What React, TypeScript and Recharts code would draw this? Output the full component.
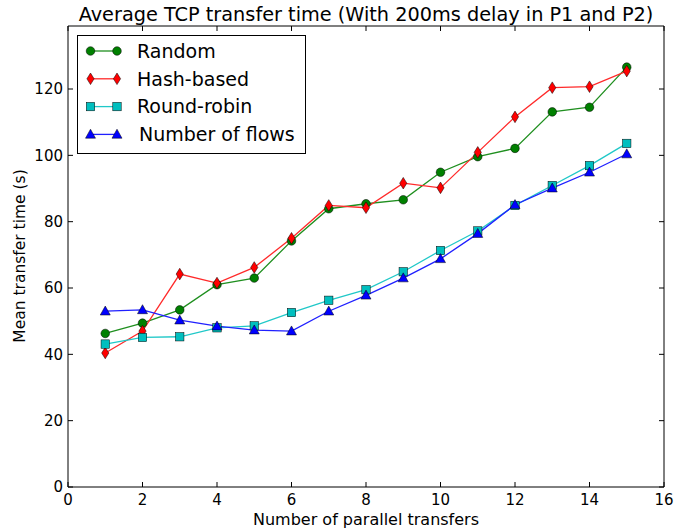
import { Legend, Line, LineChart, ReferenceArea, XAxis, YAxis } from "recharts";

const transfers = [1, 2, 3, 4, 5, 6, 7, 8, 9, 10, 11, 12, 13, 14, 15];
const random = [46.3, 49.4, 53.4, 61.0, 63.0, 74.2, 83.9, 85.4, 86.6, 94.9, 99.6, 102.1, 113.1, 114.5, 126.6];
const hashBased = [40.4, 47.0, 64.2, 61.5, 66.2, 75.0, 84.9, 84.2, 91.6, 90.2, 100.9, 111.6, 120.4, 120.7, 125.4];
const roundRobin = [43.1, 45.1, 45.3, 48.0, 48.6, 52.6, 56.3, 59.5, 64.9, 71.3, 77.2, 84.9, 90.9, 96.9, 103.6];
const numFlows = [53.0, 53.4, 50.3, 48.5, 47.3, 47.0, 53.0, 57.8, 63.0, 68.8, 76.4, 85.1, 90.1, 94.9, 100.4];

const xTicks = [0, 2, 4, 6, 8, 10, 12, 14, 16];
const yTicks = [0, 20, 40, 60, 80, 100, 120];

const data = transfers.map((n, i) => ({
    n,
    random: random[i],
    hash: hashBased[i],
    rr: roundRobin[i],
    flows: numFlows[i]
}));

type MarkerKind = "circle" | "diamond" | "square" | "triangle";

const series: { key: string; name: string; color: string; line: string; marker: MarkerKind }[] = [
    { key: "random", name: "Random", color: "#008000", line: "#1f8f1f", marker: "circle" },
    { key: "hash", name: "Hash-based", color: "#ff0000", line: "#ff2a2a", marker: "diamond" },
    { key: "rr", name: "Round-robin", color: "#00bfbf", line: "#20c8c8", marker: "square" },
    { key: "flows", name: "Number of flows", color: "#0000ff", line: "#2020ff", marker: "triangle" }
];

const W = 674;
const H = 529;
const margin = { top: 26, right: 10, bottom: 12, left: 8 };
const PLOT_TOP = margin.top;
const PLOT_RIGHT = W - margin.right;
const TICK_GAP = 7;
const FONT = "DejaVu Sans";

function Marker({ kind, cx, cy, fill }: { kind: MarkerKind; cx: number; cy: number; fill: string }) {
    const edge = { stroke: "#000", strokeWidth: 0.5, fill };
    if (kind === "circle") return <circle cx={cx} cy={cy} r={4.3} {...edge} />;
    if (kind === "diamond")
        return <polygon points={`${cx},${cy - 5.8} ${cx + 3.6},${cy} ${cx},${cy + 5.8} ${cx - 3.6},${cy}`} {...edge} />;
    if (kind === "square") return <rect x={cx - 4.2} y={cy - 4.2} width={8.4} height={8.4} {...edge} />;
    return <polygon points={`${cx},${cy - 5.2} ${cx + 5},${cy + 3.8} ${cx - 5},${cy + 3.8}`} {...edge} />;
}

const XTick = (p: any) => {
    const axisY = p.y - TICK_GAP;
    return (
        <g>
            <line x1={p.x} x2={p.x} y1={axisY} y2={axisY - 5} stroke="#000" />
            <line x1={p.x} x2={p.x} y1={PLOT_TOP} y2={PLOT_TOP + 5} stroke="#000" />
            <text x={p.x} y={p.y} dy="0.71em" textAnchor="middle" fontSize={15} fontFamily={FONT} fill="#000">
                {p.payload.value}
            </text>
        </g>
    );
};

const YTick = (p: any) => {
    const axisX = p.x + TICK_GAP - 2;
    return (
        <g>
            <line x1={axisX} x2={axisX + 5} y1={p.y} y2={p.y} stroke="#000" />
            <line x1={PLOT_RIGHT - 5} x2={PLOT_RIGHT} y1={p.y} y2={p.y} stroke="#000" />
            <text x={p.x} y={p.y} dy="0.355em" textAnchor="end" fontSize={15} fontFamily={FONT} fill="#000">
                {p.payload.value}
            </text>
        </g>
    );
};

const LegendBox = () => (
    <svg width={229} height={119} style={{ display: "block" }}>
        <rect x={0.5} y={0.5} width={228} height={118} fill="#fff" stroke="#000" />
        {series.map((s, i) => {
            const cy = 16 + i * 27.8;
            return (
                <g key={s.key}>
                    <line x1={13.5} x2={40} y1={cy} y2={cy} stroke={s.line} strokeWidth={1.3} />
                    <Marker kind={s.marker} cx={13.5} cy={cy} fill={s.color} />
                    <Marker kind={s.marker} cx={40} cy={cy} fill={s.color} />
                    <text x={i === 3 ? 62 : 60} y={cy + 6.8} fontSize={19} fontFamily={FONT} fill="#000">
                        {s.name}
                    </text>
                </g>
            );
        })}
    </svg>
);

export default function App() {
    return (
        <div style={{ position: "absolute", left: 0, top: 0, width: W, height: H, background: "#fff" }}>
            <LineChart width={W} height={H} data={data} margin={margin}>
                <XAxis
                    dataKey="n"
                    type="number"
                    domain={[0, 16]}
                    ticks={xTicks}
                    height={30}
                    tickSize={0}
                    tickMargin={TICK_GAP}
                    axisLine={false}
                    tick={XTick}
                    interval={0}
                />
                <YAxis
                    type="number"
                    domain={[0, 139]}
                    ticks={yTicks}
                    width={60}
                    tickSize={0}
                    tickMargin={TICK_GAP - 2}
                    axisLine={false}
                    tick={YTick}
                    interval={0}
                    allowDataOverflow
                />
                <ReferenceArea x1={0} x2={16} y1={0} y2={139} fill="none" stroke="#000" strokeWidth={1} ifOverflow="visible" />
                {series.map((s) => (
                    <Line
                        key={s.key}
                        dataKey={s.key}
                        name={s.name}
                        type="linear"
                        stroke={s.line}
                        strokeWidth={1.3}
                        isAnimationActive={false}
                        activeDot={false}
                        dot={(p: any) => <Marker key={`${s.key}-${p.index}`} kind={s.marker} cx={p.cx} cy={p.cy} fill={s.color} />}
                    />
                ))}
                <Legend
                    layout="vertical"
                    align="center"
                    verticalAlign="middle"
                    content={LegendBox}
                    wrapperStyle={{ left: 77, top: 35, width: 229, height: 119 }}
                />
            </LineChart>
            <svg width={W} height={H} style={{ position: "absolute", left: 0, top: 0, pointerEvents: "none" }}>
                <text x={366} y={20.5} textAnchor="middle" fontSize={19.3} fontFamily={FONT} fill="#000">
                    Average TCP transfer time (With 200ms delay in P1 and P2)
                </text>
                <text x={366} y={525} textAnchor="middle" fontSize={16} fontFamily={FONT} fill="#000">
                    Number of parallel transfers
                </text>
                <text transform="translate(25,256) rotate(-90)" textAnchor="middle" fontSize={15.5} fontFamily={FONT} fill="#000">
                    Mean transfer time (s)
                </text>
            </svg>
        </div>
    );
}
